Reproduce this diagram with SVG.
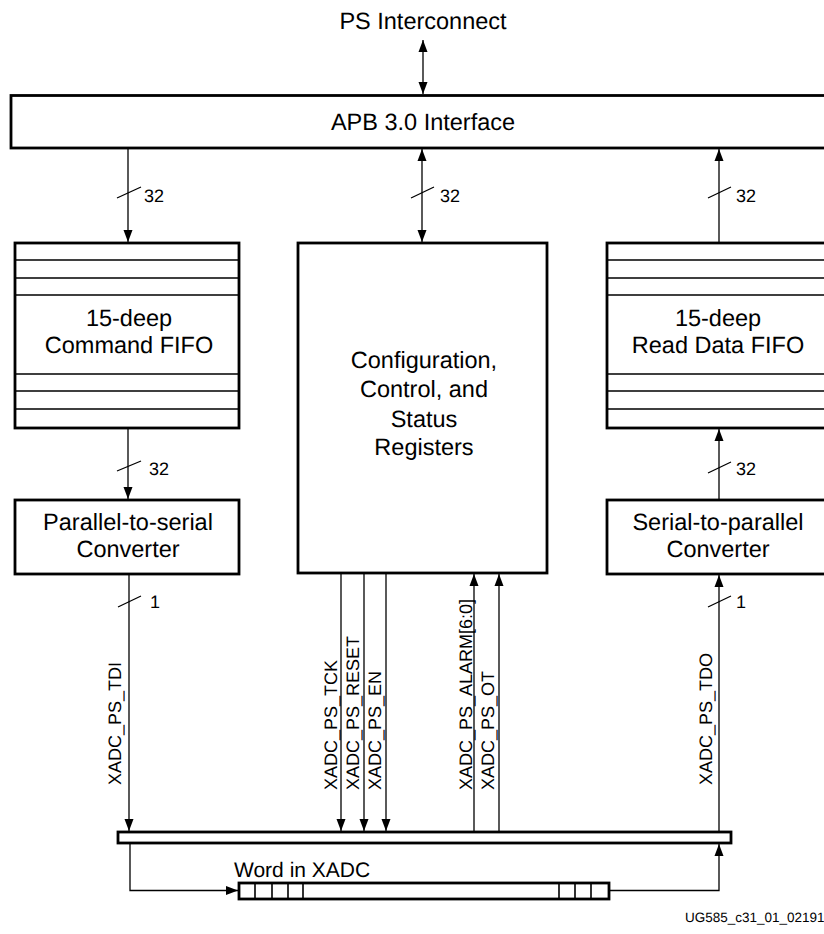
<svg xmlns="http://www.w3.org/2000/svg" width="824" height="934" viewBox="0 0 824 934">
<style>
text{font-family:"Liberation Sans",Arial,Helvetica,sans-serif;fill:#000;text-rendering:geometricPrecision}
.t{font-size:23.5px;text-anchor:middle}
.s{font-size:18px}
.box{fill:#fff;stroke:#000;stroke-width:2.8}
.fl{stroke:#000;stroke-width:1.6;fill:none}
.c{stroke:#000;stroke-width:1.3;fill:none}
.ae{marker-end:url(#ah)}
.ab{marker-start:url(#ah);marker-end:url(#ah)}
</style>
<defs>
<marker id="ah" markerUnits="userSpaceOnUse" markerWidth="12" markerHeight="10" refX="12" refY="4.5" orient="auto-start-reverse" viewBox="0 0 12 9">
<path d="M0,0 L12,4.5 L0,9 z" fill="#000"/>
</marker>
</defs>
<rect width="824" height="934" fill="#fff"/>

<g id="ps-interconnect"><text class="t" x="423" y="29">PS Interconnect</text></g>

<g id="apb"><rect class="box" x="11" y="95.5" width="830" height="52.5"/><text class="t" x="423" y="130">APB 3.0 Interface</text></g>

<g id="cmd-fifo">
<rect class="box" x="15" y="243" width="224" height="185"/>
<path class="fl" d="M16,260H238M16,278H238M16,295H238M16,374H238M16,391H238M16,409H238"/>
<text class="t" x="129" y="326">15-deep</text>
<text class="t" x="129" y="353">Command FIFO</text>
</g>

<g id="config">
<rect class="box" x="298" y="243" width="249" height="330"/>
<text class="t" x="424" y="368">Configuration,</text>
<text class="t" x="424" y="397">Control, and</text>
<text class="t" x="424" y="427">Status</text>
<text class="t" x="424" y="455">Registers</text>
</g>

<g id="read-fifo">
<rect class="box" x="607" y="243" width="230" height="185"/>
<path class="fl" d="M608,260H830M608,278H830M608,295H830M608,374H830M608,391H830M608,409H830"/>
<text class="t" x="718" y="326">15-deep</text>
<text class="t" x="718" y="353">Read Data FIFO</text>
</g>

<g id="p2s">
<rect class="box" x="15" y="500" width="224" height="74"/>
<text class="t" x="128" y="530">Parallel-to-serial</text>
<text class="t" x="128" y="557">Converter</text>
</g>

<g id="s2p">
<rect class="box" x="607" y="500" width="230" height="74"/>
<text class="t" x="718" y="530">Serial-to-parallel</text>
<text class="t" x="718" y="557">Converter</text>
</g>

<g id="bus"><rect class="box" x="118" y="832" width="613" height="11" stroke-width="2.5"/></g>

<g id="word">
<text x="234" y="877" style="font-size:21px">Word in XADC</text>
<rect class="box" x="239" y="883" width="370" height="16" stroke-width="2.5"/>
<path class="fl" d="M255,884V898M272,884V898M288,884V898M303,884V898M559,884V898M575,884V898M591,884V898"/>
</g>

<g id="connectors">
<line class="c ab" x1="423" y1="40" x2="423" y2="94"/>
<line class="c ae" x1="128" y1="149" x2="128" y2="242"/>
<line class="c ab" x1="422" y1="149" x2="422" y2="242"/>
<line class="c ae" x1="719" y1="242" x2="719" y2="149"/>
<line class="c ae" x1="128" y1="429" x2="128" y2="499"/>
<line class="c ae" x1="719" y1="499" x2="719" y2="429"/>
<line class="c ae" x1="129" y1="575" x2="129" y2="831"/>
<line class="c ae" x1="719" y1="831" x2="719" y2="575"/>
<line class="c ae" x1="341" y1="574" x2="341" y2="831"/>
<line class="c ae" x1="364" y1="574" x2="364" y2="831"/>
<line class="c ae" x1="386" y1="574" x2="386" y2="831"/>
<line class="c ae" x1="474" y1="831" x2="474" y2="574"/>
<line class="c ae" x1="499" y1="831" x2="499" y2="574"/>
<path class="c ae" d="M130,844V890.5H238"/>
<path class="c ae" d="M610,890.5H719V844"/>
<path class="c" d="M117,198L141,187M411,198L434,187M708,198L731,187M117,471L141,461M708,473L731,462M118,607L141,596M708,607L731,596"/>
<text class="s" x="144" y="202">32</text>
<text class="s" x="440" y="202">32</text>
<text class="s" x="736" y="202">32</text>
<text class="s" x="149" y="475">32</text>
<text class="s" x="736" y="475">32</text>
<text class="s" x="150" y="608">1</text>
<text class="s" x="736" y="608">1</text>
<text class="s" transform="translate(121,785) rotate(-90)">XADC_PS_TDI</text>
<text class="s" transform="translate(337,790) rotate(-90)">XADC_PS_TCK</text>
<text class="s" transform="translate(359,790) rotate(-90)">XADC_PS_RESET</text>
<text class="s" transform="translate(381,790) rotate(-90)">XADC_PS_EN</text>
<text class="s" transform="translate(472,790) rotate(-90)">XADC_PS_ALARM[6:0]</text>
<text class="s" transform="translate(494,790) rotate(-90)">XADC_PS_OT</text>
<text class="s" transform="translate(712,785) rotate(-90)">XADC_PS_TDO</text>
</g>

<g id="figure-id"><text x="685" y="922" style="font-size:13.5px">UG585_c31_01_02191</text></g>
</svg>
